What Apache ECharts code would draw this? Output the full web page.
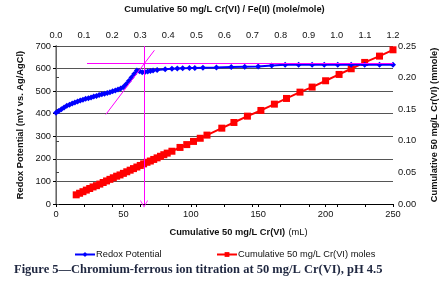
<!DOCTYPE html>
<html>
<head>
<meta charset="utf-8">
<script src="https://cdn.jsdelivr.net/npm/echarts@6/dist/echarts.min.js"></script>
<style>
  html, body { margin: 0; padding: 0; background: #fff; }
  #main { width: 448px; height: 289px; }
</style>
</head>
<body>
<div id="main"></div>
<script>
// redox potential (mV) vs cumulative volume (mL)
const redoxVolume = [0, 2, 4, 6, 8, 10, 12, 14, 16, 18, 20, 22, 24, 26, 28, 30, 32, 34, 36, 38,
  40, 42, 44, 46, 48, 50, 52, 54, 56, 58, 60, 62, 64, 66, 68, 70, 72, 75, 81, 86, 90, 94, 99,
  103, 109, 119, 130, 140, 150, 160, 170, 180, 190, 199, 209, 219, 229, 240, 250];
const redoxMv = [404, 412, 420, 428, 435, 440, 445, 450, 454, 458, 462, 466, 469, 472, 476, 479, 483, 486, 489, 492,
  495, 499, 503, 507, 512, 518, 530, 545, 560, 576, 592, 588, 584, 585, 587, 589, 591, 594, 597, 599, 600, 601, 602,
  603, 604, 605, 607, 608, 609, 614, 617, 617, 617, 617, 617, 617, 617, 617, 617];

// cumulative Cr(VI) moles (mmole) vs volume (mL)
const crVolume = [15, 17.5, 20, 22.5, 25, 27.5, 30, 32.5, 35, 37.5, 40, 42.5, 45, 47.5, 50, 52.5, 55, 57.5,
  60, 62.5, 65, 67.5, 70, 72.5, 75, 77.5, 80, 82.5, 86, 92, 97, 102, 107, 112, 123, 132, 142, 152, 162,
  171, 181, 190, 200, 210, 219, 229, 240, 250];
const crMmole = [0.0145, 0.017, 0.0195, 0.022, 0.0245, 0.027, 0.029, 0.0315, 0.034, 0.0365, 0.039, 0.0415, 0.044, 0.046, 0.0485, 0.051, 0.0535, 0.056,
  0.0585, 0.061, 0.0635, 0.066, 0.068, 0.0705, 0.073, 0.0755, 0.078, 0.0805, 0.0835, 0.0895, 0.094, 0.099, 0.104, 0.109, 0.12, 0.129, 0.139, 0.148, 0.158,
  0.167, 0.177, 0.185, 0.195, 0.205, 0.214, 0.224, 0.234, 0.244];

const ratioTicks = [0, 1.2, 0.1];   // top axis min, max, step
const mvTicks = [0, 700, 100];
const mmoleTicks = [0, 0.25, 0.05];
const mlTicks = [0, 250, 50];

// pink guide lines (data coords: mL, mV)
const tangentLine = [[37, 397], [73, 681]];
const plateauLine = [[23, 622], [250, 622]];
const endpointLine = [[65.3, 700], [65.3, 0]];

const chart = echarts.init(document.getElementById('main'));
const font = 'Liberation Sans, Arial, sans-serif';
const txt = '#111';
const fs = 9.3;

chart.setOption({
  animation: false,
  textStyle: { fontFamily: font },
  grid: { left: 56, right: 55, top: 44, bottom: 85 },
  legend: [
    {
      data: ['Redox Potential'], left: 69, top: 245, itemWidth: 20, itemHeight: 6, itemGap: 2,
      textStyle: { fontSize: fs, color: txt, padding: [0, 0, 0, -4] }
    },
    {
      data: ['Cumulative 50 mg/L Cr(VI) moles'], left: 211, top: 245, itemWidth: 20, itemHeight: 6,
      textStyle: { fontSize: fs, color: txt, padding: [0, 0, 0, -4] }
    }
  ],
  xAxis: [
    {
      type: 'value', position: 'bottom', min: mlTicks[0], max: mlTicks[1], interval: mlTicks[2],
      axisLine: { lineStyle: { color: '#000', width: 1 } },
      axisTick: { show: true, length: 3, lineStyle: { color: '#000' } },
      axisLabel: { fontSize: fs, color: txt, margin: 6 },
      splitLine: { show: false },
      name: '{b|Cumulative 50 mg/L Cr(VI)} {n|(mL)}',
      nameLocation: 'middle', nameGap: 22,
      nameTextStyle: {
        padding: [0, 0, 0, 28],
        rich: {
          b: { fontSize: fs, fontWeight: 'bold', color: txt, fontFamily: font },
          n: { fontSize: fs, color: txt, fontFamily: font }
        }
      }
    },
    {
      type: 'value', position: 'top', min: ratioTicks[0], max: ratioTicks[1], interval: ratioTicks[2],
      axisLine: { show: true, lineStyle: { color: '#000', width: 1 } },
      axisTick: { show: true, inside: true, length: 3, lineStyle: { color: '#000' } },
      axisLabel: { fontSize: fs, color: txt, margin: 6, formatter: v => v.toFixed(1) },
      splitLine: { show: false },
      name: 'Cumulative 50 mg/L Cr(VI) / Fe(II) (mole/mole)',
      nameLocation: 'middle', nameGap: 32,
      nameTextStyle: { fontSize: fs, fontWeight: 'bold', color: txt }
    }
  ],
  yAxis: [
    {
      type: 'value', position: 'left', min: mvTicks[0], max: mvTicks[1], interval: mvTicks[2],
      axisLine: { show: true, lineStyle: { color: '#000', width: 1 } },
      axisTick: { show: true, length: 3, lineStyle: { color: '#000' } },
      axisLabel: { fontSize: fs, color: txt, margin: 5 },
      splitLine: { show: true, lineStyle: { color: '#555', width: 1 } },
      name: 'Redox Potential (mV vs. Ag/AgCl)',
      nameLocation: 'middle', nameGap: 30, nameRotate: 90,
      nameTextStyle: { fontSize: fs, fontWeight: 'bold', color: txt }
    },
    {
      type: 'value', position: 'right', min: mmoleTicks[0], max: mmoleTicks[1], interval: mmoleTicks[2],
      axisLine: { show: true, lineStyle: { color: '#888', width: 1.5 } },
      axisTick: { show: true, length: 3, lineStyle: { color: '#444' } },
      axisLabel: { fontSize: fs, color: txt, margin: 5, formatter: v => v.toFixed(2) },
      splitLine: { show: false },
      name: 'Cumulative 50 mg/L Cr(VI) (mmole)',
      nameLocation: 'middle', nameGap: 37, nameRotate: 90,
      nameTextStyle: { fontSize: fs, fontWeight: 'bold', color: txt }
    }
  ],
  series: [
    {
      name: 'Cumulative 50 mg/L Cr(VI) moles',
      type: 'line', xAxisIndex: 0, yAxisIndex: 1,
      data: crVolume.map((v, i) => [v, crMmole[i]]),
      symbol: 'rect', symbolSize: 7,
      itemStyle: { color: '#ff0000' },
      lineStyle: { color: '#ff0000', width: 2 },
      z: 2
    },
    {
      name: 'Redox Potential',
      type: 'line', xAxisIndex: 0, yAxisIndex: 0,
      data: redoxVolume.map((v, i) => [v, redoxMv[i]]),
      symbol: 'diamond', symbolSize: 6,
      itemStyle: { color: '#0000ff' },
      lineStyle: { color: '#0000ff', width: 2 },
      z: 3,
      markLine: {
        silent: true, animation: false,
        label: { show: false },
        lineStyle: { color: '#ff00ff', width: 1, type: 'solid' },
        symbol: ['none', 'none'],
        data: [
          [{ coord: tangentLine[0] }, { coord: tangentLine[1] }],
          [{ coord: plateauLine[0] }, { coord: plateauLine[1] }],
          [{ coord: endpointLine[0], symbol: 'none' },
           { coord: endpointLine[1], symbol: 'path://M5,0 L10,8 L9,8 L5,1.6 L1,8 L0,8 Z', symbolSize: [8, 7] }]
        ]
      }
    }
  ],
  graphic: [
    {
      type: 'text', left: 14, top: 263,
      style: {
        text: 'Figure 5\u2014Chromium-ferrous ion titration at 50 mg/L Cr(VI), pH 4.5',
        font: 'bold 12.5px "Liberation Serif", "Times New Roman", serif',
        fill: '#1f2740'
      }
    }
  ]
});
</script>
</body>
</html>
